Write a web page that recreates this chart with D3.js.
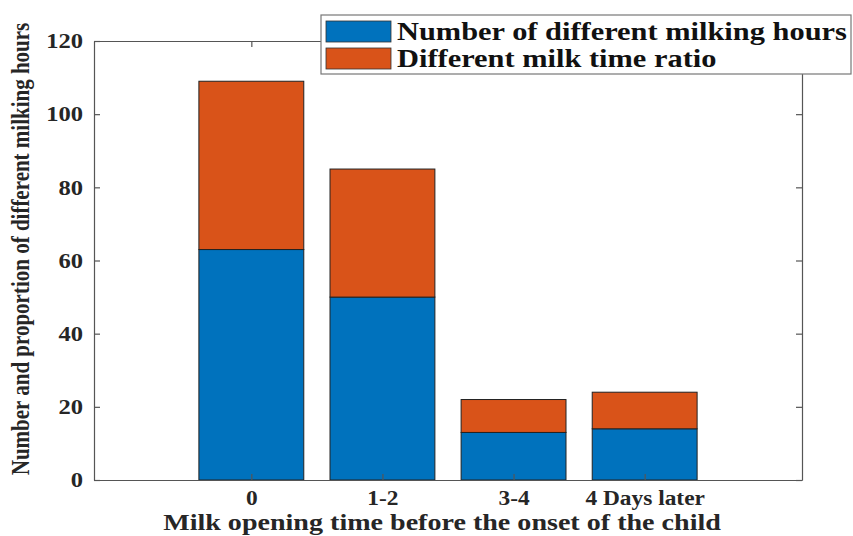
<!DOCTYPE html>
<html>
<head>
<meta charset="utf-8">
<script src="https://cdn.jsdelivr.net/npm/d3@7"></script>
<style>
  body { margin: 0; background: #fff; }
  text { font-family: "Liberation Serif", "Times New Roman", serif; font-weight: bold; }
</style>
</head>
<body>
<div id="chart"></div>
<script>
var categories = ['0', '1-2', '3-4', '4 Days later'];
var milkingHours = [63, 50, 13, 14];
var timeRatio = [46, 35, 9, 10];
var seriesNames = ['Number of different milking hours', 'Different milk time ratio'];
var yTicks = [0, 20, 40, 60, 80, 100, 120];

var chartW = 853, chartH = 536;
var margin = {left: 94, right: 51, top: 41, bottom: 56};
var colors = ['#0072BD', '#D95319'];
var stretch = 1.17; // the figure's lettering is a bit wide

function drawChart() {
  var svg = d3.select('#chart').append('svg')
    .attr('width', chartW)
    .attr('height', chartH);

  var plotW = chartW - margin.left - margin.right;
  var plotH = chartH - margin.top - margin.bottom;

  // categories sit at positions 1..4, axis runs a bit past them
  var x = d3.scaleLinear().domain([-0.2, 5.2]).range([margin.left, margin.left + plotW]);
  var y = d3.scaleLinear().domain([0, 120]).range([margin.top + plotH, margin.top]);
  var step = x(2) - x(1);
  var barW = step * 0.8;

  var stacked = categories.map(function(c, i) {
    return {cat: c, pos: i + 1, vals: [milkingHours[i], timeRatio[i]]};
  });

  // bars
  stacked.forEach(function(d) {
    var base = 0;
    d.vals.forEach(function(v, k) {
      svg.append('rect')
        .attr('x', x(d.pos) - barW / 2)
        .attr('y', y(base + v))
        .attr('width', barW)
        .attr('height', y(base) - y(base + v))
        .attr('fill', colors[k])
        .attr('stroke', '#222')
        .attr('stroke-width', 1);
      base += v;
    });
  });

  // axes, MATLAB style box with inward ticks
  var axisColor = '#555';
  var axLeft = d3.axisLeft(y).tickValues(yTicks).tickSizeInner(-6).tickSizeOuter(0).tickPadding(9.4);
  var axRight = d3.axisRight(y).tickValues(yTicks).tickSizeInner(-6).tickSizeOuter(0).tickFormat('');
  var axBottom = d3.axisBottom(x).tickValues([1, 2, 3, 4]).tickSizeInner(-6).tickSizeOuter(0)
    .tickPadding(11).tickFormat(function(d) { return categories[d - 1]; });
  var axTop = d3.axisTop(x).tickValues([1, 2, 3, 4]).tickSizeInner(-6).tickSizeOuter(0).tickFormat('');

  var gl = svg.append('g').attr('transform', 'translate(' + margin.left + ',0)').call(axLeft);
  var gr = svg.append('g').attr('transform', 'translate(' + (margin.left + plotW) + ',0)').call(axRight);
  var gb = svg.append('g').attr('transform', 'translate(0,' + (margin.top + plotH) + ')').call(axBottom);
  var gt = svg.append('g').attr('transform', 'translate(0,' + margin.top + ')').call(axTop);

  [gl, gr, gb, gt].forEach(function(g) {
    g.selectAll('path, line').attr('stroke', axisColor).attr('stroke-width', 1.2);
    g.selectAll('text').attr('fill', '#262626')
      .attr('transform', 'scale(' + stretch + ',1)')
      .style('font-family', '"Liberation Serif", serif').style('font-weight', 'bold');
  });
  gl.selectAll('text').style('font-size', '21px');
  gb.selectAll('text').style('font-size', '20px');

  // axis titles
  svg.append('text')
    .attr('transform', 'translate(29,' + 249 + ') rotate(-90) scale(1,' + stretch + ')')
    .attr('text-anchor', 'middle')
    .attr('fill', '#262626')
    .style('font-size', '21px')
    .text('Number and proportion of different milking hours');

  svg.append('text')
    .attr('transform', 'translate(442,530) scale(' + stretch + ',1)')
    .attr('text-anchor', 'middle')
    .attr('fill', '#262626')
    .style('font-size', '24px')
    .text('Milk opening time before the onset of the child');

  // legend
  var lg = svg.append('g').attr('transform', 'translate(321,15)');
  lg.append('rect')
    .attr('width', 530).attr('height', 59)
    .attr('fill', '#fff').attr('stroke', '#777').attr('stroke-width', 1.2);
  seriesNames.forEach(function(name, k) {
    lg.append('rect')
      .attr('x', 5).attr('y', 6 + k * 27)
      .attr('width', 65).attr('height', 21)
      .attr('fill', colors[k]).attr('stroke', '#333').attr('stroke-width', 0.8);
    lg.append('text')
      .attr('transform', 'translate(76,' + (25 + k * 27) + ') scale(' + stretch + ',1)')
      .attr('fill', '#111')
      .style('font-size', '26px')
      .text(name);
  });
}

drawChart();
</script>
</body>
</html>
